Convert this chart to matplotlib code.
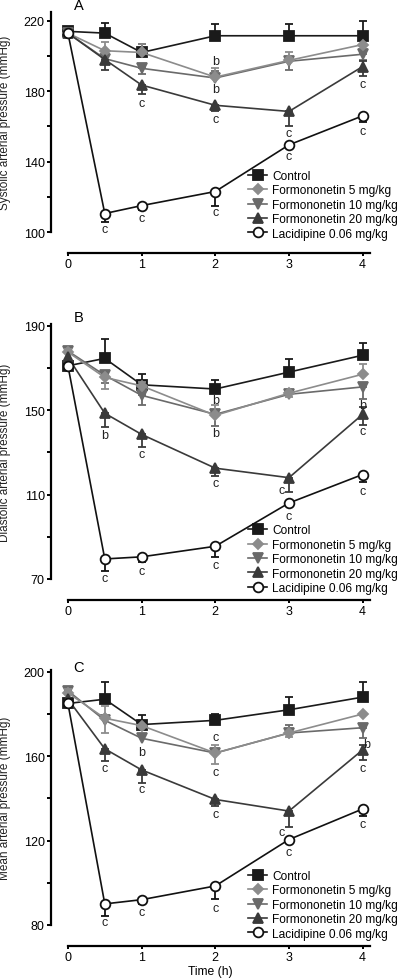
import numpy as np
import matplotlib
matplotlib.use("Agg")
import matplotlib.pyplot as plt
from matplotlib.ticker import FixedLocator

plt.rcParams['font.family'] = ['Liberation Sans', 'DejaVu Sans']

# time points (h)
times = np.array([0, 0.5, 1, 2, 3, 4])

labels = ["Control", "Formononetin 5 mg/kg", "Formononetin 10 mg/kg",
          "Formononetin 20 mg/kg", "Lacidipine 0.06 mg/kg"]

# ---- A: systolic
sbp_ctrl = [214, 213, 202, 211.5, 211.5, 211.5]
sbp_f5 = [213, 203, 202, 188, 197.5, 206.5]
sbp_f10 = [213, 198.5, 193, 187.5, 197, 201]
sbp_f20 = [213, 198, 183.5, 172, 168.5, 194]
sbp_lac = [213, 110.5, 115, 123, 149.5, 166]
sbp_up = [[2, 6, 5, 6.5, 6.5, 8.5], [2, 5, 5, 5, 5, 0], [2, 0, 0, 4, 0, 0],
          [0, 0, 0, 0, 0, 3], [0, 0, 0, 0, 0, 0]]
sbp_lo = [[2, 0, 0, 0, 0, 0], [0, 0, 0, 0, 0, 0], [0, 0, 3, 0, 5, 3],
          [0, 6, 5, 3.5, 8, 5.5], [0, 5, 2.5, 8, 2, 3.5]]
sbp_marks = [(2, 197.2, "b"), (2, 181.3, "b"),
             (1, 173.3, "c"), (2, 164.2, "c"), (3, 156.3, "c"), (4, 184.2, "c"),
             (0.5, 101.6, "c"), (1, 107.9, "c"), (2, 111.3, "c"), (3, 143.2, "c"), (4, 157.4, "c")]

# ---- B: diastolic
dbp_ctrl = [171, 174.5, 162, 160, 168, 176]
dbp_f5 = [177.5, 165.5, 161.5, 147.5, 158, 167]
dbp_f10 = [178, 166.5, 157, 148, 157.5, 161]
dbp_f20 = [175, 148.5, 138.5, 122.5, 118, 148]
dbp_lac = [171, 79.5, 80.5, 85.5, 106, 119.5]
dbp_up = [[0, 9, 5, 4.5, 6, 6], [1.5, 0, 2, 5, 0, 5], [1.5, 0, 0, 0, 2, 0],
          [0, 0, 0, 0, 0, 3.5], [0, 0, 0, 0, 0, 0]]
dbp_lo = [[0, 0, 0, 0, 0, 0], [0, 5.5, 0, 0, 2, 0], [0, 3.5, 4.5, 5.5, 0, 5.5],
          [0, 6.5, 6, 3.5, 7, 5], [0, 5.5, 2.5, 5, 0, 3.5]]
dbp_marks = [(0.5, 138.2, "b"), (1, 129.2, "c"), (2, 154.9, "b"), (2, 139.1, "b"),
             (4, 152.4, "b"), (4, 140.2, "c"), (2, 115.5, "c"), (2.9, 112.2, "c"),
             (0.5, 70.5, "c"), (1, 73.8, "c"), (2, 76.6, "c"), (3, 99.8, "c"), (4, 111.7, "c")]

# ---- C: mean
map_ctrl = [185, 187, 175, 177, 182, 188]
map_f5 = [190, 178, 174.5, 161.5, 171, 180]
map_f10 = [191, 177, 168.5, 161.5, 171, 173.5]
map_f20 = [187, 163.5, 153.5, 139.5, 134, 163]
map_lac = [185, 90, 92, 98.5, 120.5, 135]
map_up = [[0, 8, 4.5, 3, 6, 7], [2, 6, 0, 4, 0, 0], [1.5, 0, 0, 0, 4, 0],
          [0, 0, 0, 0, 0, 2.5], [0, 0, 0, 0, 0, 0]]
map_lo = [[0, 0, 0, 0, 0, 0], [0, 7, 0, 5, 2, 0], [0, 0, 0, 0, 0, 5],
          [0, 6, 6, 3, 7.5, 5], [0, 5.5, 2, 6, 0, 3.5]]
map_marks = [(2, 168.9, "c"), (2, 152.6, "c"), (1, 162.1, "b"),
             (0.5, 154.2, "c"), (1, 144.4, "c"), (2, 132.5, "c"), (2.9, 123.9, "c"),
             (4.05, 165.7, "b"), (4, 154.2, "c"),
             (0.5, 81.2, "c"), (1, 86.2, "c"), (2, 88.2, "c"), (3, 114.4, "c"), (4, 127.8, "c")]

styles = [
    dict(color="#1a1a1a", marker="s", ms=6.5, mfc="#1a1a1a", z=3),
    dict(color="#8c8c8c", marker="D", ms=4.6, mfc="#8c8c8c", z=5),
    dict(color="#6a6a6a", marker="v", ms=7, mfc="#6a6a6a", z=4),
    dict(color="#3a3a3a", marker="^", ms=7, mfc="#3a3a3a", z=6),
    dict(color="#111111", marker="o", ms=7, mfc="white", z=7),
]

panels = [
    dict(letter="A", series=[sbp_ctrl, sbp_f5, sbp_f10, sbp_f20, sbp_lac], up=sbp_up, lo=sbp_lo,
         marks=sbp_marks, ylim=(100, 225), major=[100, 140, 180, 220], minor=[120, 160, 200],
         ylabel="Systolic arterial pressure (mmHg)", rect=[51/400, 1-233/979, 319/400, 220/979],
         letter_y=1-6/979, leg_y=1-171/979),
    dict(letter="B", series=[dbp_ctrl, dbp_f5, dbp_f10, dbp_f20, dbp_lac], up=dbp_up, lo=dbp_lo,
         marks=dbp_marks, ylim=(70, 190.8), major=[70, 110, 150, 190], minor=[90, 130, 170],
         ylabel="Diastolic arterial pressure (mmHg)", rect=[51/400, 1-580/979, 319/400, 255/979],
         letter_y=1-318/979, leg_y=1-525.5/979),
    dict(letter="C", series=[map_ctrl, map_f5, map_f10, map_f20, map_lac], up=map_up, lo=map_lo,
         marks=map_marks, ylim=(80, 201), major=[80, 120, 160, 200], minor=[100, 140, 180],
         ylabel="Mean arterial pressure (mmHg)", rect=[51/400, 1-926/979, 319/400, 255.3/979],
         letter_y=1-667.7/979, leg_y=1-871/979),
]

fig = plt.figure(figsize=(4, 9.79), dpi=100)

for p in panels:
    ax = fig.add_axes(p["rect"])
    handles = []
    for vals, up, lo, st in zip(p["series"], p["up"], p["lo"], styles):
        y = np.array(vals, dtype=float)
        up = np.array(up, dtype=float)
        lo = np.array(lo, dtype=float)
        m = (up > 0) | (lo > 0)
        if m.any():
            ax.errorbar(times[m], y[m], yerr=[lo[m], up[m]], fmt="none", ecolor=st["color"],
                        elinewidth=1.3, capsize=3, capthick=1.3, zorder=st["z"] - 0.5,
                        clip_on=False)
        h, = ax.plot(times, y, color=st["color"], lw=1.2, marker=st["marker"], ms=st["ms"],
                     mfc=st["mfc"], mec=st["color"], mew=1.3, zorder=st["z"], clip_on=False)
        handles.append(h)

    for x, y, t in p["marks"]:
        ax.text(x, y, t, ha="center", va="center", fontsize=9, family="Liberation Sans",
                color="#222222", zorder=10)

    ax.set_xlim(-0.23, 4.1)
    ax.set_ylim(*p["ylim"])
    ax.yaxis.set_major_locator(FixedLocator(p["major"]))
    ax.yaxis.set_minor_locator(FixedLocator(p["minor"]))
    ax.set_xticks([0, 1, 2, 3, 4])
    for s in ["top", "right"]:
        ax.spines[s].set_visible(False)
    ax.spines["left"].set_linewidth(1.6)
    ax.spines["bottom"].set_linewidth(1.6)
    ax.spines["bottom"].set_position(("outward", 15))
    ax.spines["bottom"].set_bounds(0, 4.1)
    ax.tick_params(axis="y", which="major", length=3, width=1.4, pad=1.5, labelsize=9)
    ax.tick_params(axis="y", which="minor", length=3, width=1.4)
    ax.tick_params(axis="x", length=2.5, width=1.4, pad=1, labelsize=9)
    for lab in ax.get_xticklabels() + ax.get_yticklabels():
        lab.set_family("Liberation Sans")
    ax.set_ylabel(p["ylabel"], fontsize=8.5, family="Liberation Sans", color="#222222")
    ax.yaxis.set_label_coords(-0.125, 0.5)

    fig.text(79/400, p["letter_y"], p["letter"], fontsize=10.5, family="Liberation Sans",
             ha="center", va="center")

    ax.legend(handles, labels, loc="upper left", bbox_to_anchor=(248/400, p["leg_y"]),
              bbox_transform=fig.transFigure, frameon=False, borderpad=0,
              prop={"family": "Liberation Sans", "size": 8.6},
              borderaxespad=0, handlelength=1.6, handletextpad=0.4, labelspacing=0.2)

    if p["letter"] == "C":
        ax.set_xlabel("Time (h)", fontsize=8.7, family="Liberation Sans", labelpad=2)

fig.savefig("out.png", dpi=100)
